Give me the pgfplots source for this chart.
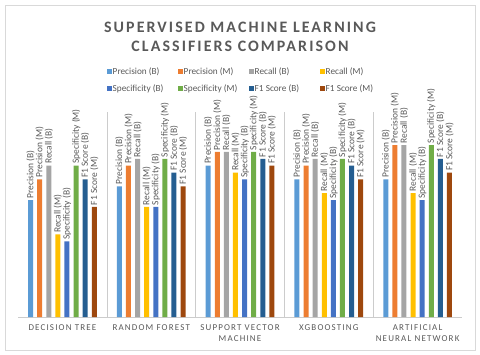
\documentclass[border=0pt]{standalone}
\usepackage{fontspec}
\setmainfont{Carlito}
\newfontfamily\titlefont[LetterSpace=13]{Carlito}
\newfontfamily\catfont[LetterSpace=13]{Carlito}
\usepackage{pgfplots}
\usepackage{pgfplotstable}
\pgfplotsset{compat=1.18}

\definecolor{cPB}{HTML}{5B9BD5}
\definecolor{cPM}{HTML}{ED7D31}
\definecolor{cRB}{HTML}{A5A5A5}
\definecolor{cRM}{HTML}{FFC000}
\definecolor{cSB}{HTML}{4472C4}
\definecolor{cSM}{HTML}{70AD47}
\definecolor{cFB}{HTML}{255E91}
\definecolor{cFM}{HTML}{9E480E}
\definecolor{txt}{HTML}{595959}

% x: 0 DT, 1 RF, 2 SVM, 3 XGB, 4 ANN
\pgfplotstableread{
x PB  PM  RB  RM SB SM  FB FM
0 92  95  97  87 86 97  95 91
1 94  97  98  91 91 98  96 94
2 97  99  99  96 95 99  98 97
3 95  97  98  93 92 98  97 95
4 95 100 100  93 92 100 98 96
}\scores

\pgfplotsset{/pgfplots/ybar legend/.style={/pgfplots/legend image code/.code={%
  \fill[##1] (0bp,-2.5bp) rectangle (5bp,2.5bp);}}}
\newcommand{\legtxt}[1]{\makebox[65bp][l]{#1}}

\begin{document}
\begin{tikzpicture}
\path (0,0) rectangle (480bp,355bp);
\draw[black!15] (5bp,5bp) rectangle (475bp,350bp);
\node[font=\titlefont\fontsize{16}{19}\selectfont\bfseries, text=txt, align=center]
  at (240bp,318.5bp) {SUPERVISED MACHINE LEARNING\\CLASSIFIERS COMPARISON};
\begin{axis}[at={(18bp,38bp)}, anchor=south west,
  scale only axis, width=444bp, height=205bp,
  ymin=75, ymax=104.8, xmin=-0.5, xmax=4.5,
  ybar=4.1bp, bar width=5bp, clip=false,
  hide y axis, axis x line*=bottom,
  x axis line style={draw=black!20},
  xtick={0,...,4}, major tick length=0,
  xticklabels={DECISION TREE, RANDOM FOREST, {SUPPORT VECTOR\\MACHINE}, XGBOOSTING, {ARTIFICIAL\\NEURAL NETWORK}},
  xticklabel style={font=\catfont\fontsize{9}{11}\selectfont, text=txt, align=center, yshift=-4bp},
  minor xtick={0.5,1.5,2.5,3.5}, xminorgrids, minor tick length=0,
  minor grid style={draw=black!20},
  every node near coord/.append style={rotate=90, anchor=west, font=\fontsize{9.5}{11}\selectfont, text=txt, inner sep=1.5bp},
  legend style={at={(0.2005,1.155)}, anchor=west, draw=none, fill=none, inner sep=0pt,
    font=\fontsize{9.3}{11}\selectfont, text=txt, column sep=-1.5bp, row sep=5bp,
    nodes={inner xsep=2bp}},
  legend columns=4, legend cell align=left,
]
\addplot[fill=cPB, draw=none, nodes near coords={Precision (B)}] table[x=x, y=PB] {\scores};
\addplot[fill=cPM, draw=none, nodes near coords={Precision (M)}] table[x=x, y=PM] {\scores};
\addplot[fill=cRB, draw=none, nodes near coords={Recall (B)}] table[x=x, y=RB] {\scores};
\addplot[fill=cRM, draw=none, nodes near coords={Recall (M)}] table[x=x, y=RM] {\scores};
\addplot[fill=cSB, draw=none, nodes near coords={Specificity (B)}] table[x=x, y=SB] {\scores};
\addplot[fill=cSM, draw=none, nodes near coords={Specificity (M)}] table[x=x, y=SM] {\scores};
\addplot[fill=cFB, draw=none, nodes near coords={F1 Score (B)}] table[x=x, y=FB] {\scores};
\addplot[fill=cFM, draw=none, nodes near coords={F1 Score (M)}] table[x=x, y=FM] {\scores};
\legend{\legtxt{Precision (B)}, \legtxt{Precision (M)}, \legtxt{Recall (B)}, \legtxt{Recall (M)}, \legtxt{Specificity (B)}, \legtxt{Specificity (M)}, \legtxt{F1 Score (B)}, \legtxt{F1 Score (M)}}
\end{axis}
\end{tikzpicture}
\end{document}
